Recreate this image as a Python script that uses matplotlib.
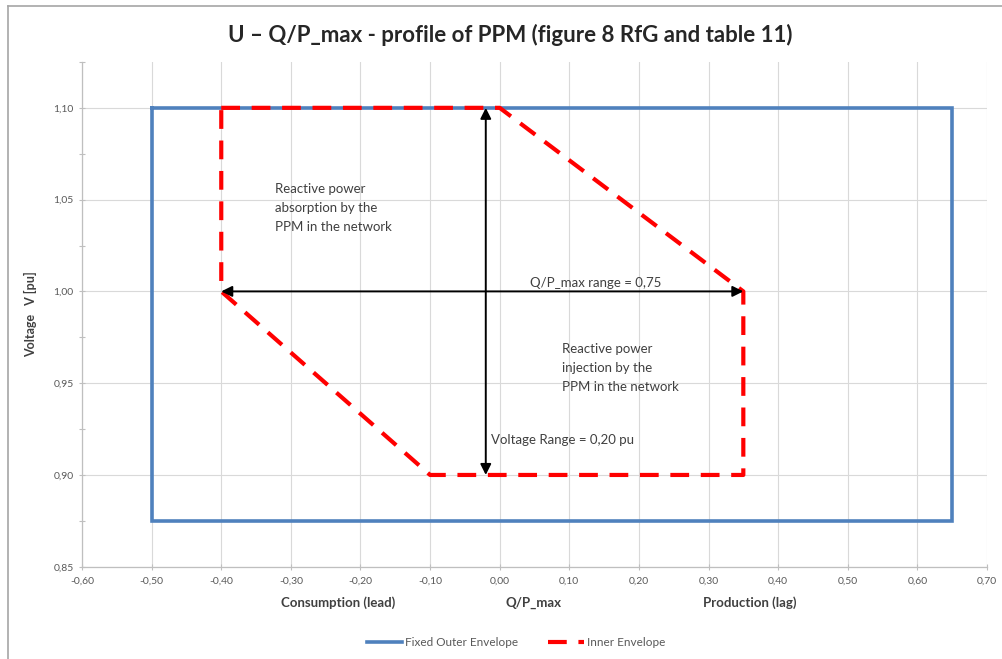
import matplotlib
matplotlib.use("Agg")
import matplotlib.pyplot as plt
from matplotlib.lines import Line2D
from matplotlib.ticker import FuncFormatter, MultipleLocator

plt.rcParams["font.family"] = ["Lato", "DejaVu Sans"]

# outer envelope (fixed)
outer_q = [-0.50, 0.65, 0.65, -0.50, -0.50]
outer_u = [1.10, 1.10, 0.875, 0.875, 1.10]

# inner envelope
inner_q = [-0.40, 0.00, 0.35, 0.35, -0.10, -0.40, -0.40]
inner_u = [1.10, 1.10, 1.00, 0.90, 0.90, 1.00, 1.10]

# range arrows
v_arrow_q = -0.02
v_arrow_u = [0.90, 1.10]
h_arrow_u = 1.00
h_arrow_q = [-0.40, 0.35]

text_col = "#404040"
tick_col = "#595959"

fig = plt.figure(figsize=(10.03, 6.59), dpi=100)
ax = fig.add_axes([0.0818, 0.140, 0.9022, 0.766])

ax.plot(outer_q, outer_u, color="#4F81BD", lw=2.6, solid_joinstyle="miter",
        label="Fixed Outer Envelope", zorder=3)
ax.plot(inner_q, inner_u, color="#FF0000", lw=3.0, dashes=(4.5, 2.8),
        label="Inner Envelope", zorder=4)

arrow = dict(arrowstyle="<|-|>", color="black", lw=1.4, mutation_scale=16,
             shrinkA=0, shrinkB=0)
ax.annotate("", xy=(v_arrow_q, v_arrow_u[1]), xytext=(v_arrow_q, v_arrow_u[0]),
            arrowprops=arrow, zorder=5)
ax.annotate("", xy=(h_arrow_q[1], h_arrow_u), xytext=(h_arrow_q[0], h_arrow_u),
            arrowprops=arrow, zorder=5)

note = dict(fontsize=9.5, color=text_col, linespacing=1.7)
ax.text(-0.323, 1.059, "Reactive power\nabsorption by the\nPPM in the network",
        ha="left", va="top", **note)
ax.text(0.09, 0.972, "Reactive power\ninjection by the\nPPM in the network",
        ha="left", va="top", **note)
ax.text(0.043, 1.0045, "Q/P_max range = 0,75", ha="left", va="center", **note)
ax.text(-0.012, 0.919, "Voltage Range = 0,20 pu", ha="left", va="center", **note)

ax.set_xlim(-0.60, 0.70)
ax.set_ylim(0.85, 1.125)
ax.xaxis.set_major_locator(MultipleLocator(0.10))
ax.yaxis.set_major_locator(MultipleLocator(0.05))
ax.yaxis.set_minor_locator(MultipleLocator(0.025))
comma = FuncFormatter(lambda v, p: f"{v:.2f}".replace(".", ",").replace("-0,00", "0,00"))
ax.xaxis.set_major_formatter(comma)
ax.yaxis.set_major_formatter(comma)
ax.tick_params(axis="both", which="both", labelsize=7.5, labelcolor=tick_col,
               color="#BFBFBF", direction="inout", length=5, width=0.8)
ax.tick_params(axis="y", which="minor", length=4)
ax.tick_params(axis="x", pad=5)

ax.grid(True, which="major", color="#D9D9D9", lw=0.8)
ax.set_axisbelow(True)
for side in ["top", "right"]:
    ax.spines[side].set_visible(False)
for side in ["left", "bottom"]:
    ax.spines[side].set_color("#BFBFBF")
    ax.spines[side].set_linewidth(0.9)

ax.set_ylabel("Voltage   V [pu]", fontsize=9, fontweight="bold", color=text_col,
              labelpad=12)

lab = dict(fontsize=9.5, fontweight="bold", color=text_col, ha="center", va="center")
fig.text(338 / 1003, 1 - 603 / 659, "Consumption (lead)", **lab)
fig.text(534 / 1003, 1 - 603 / 659, "Q/P_max", **lab)
fig.text(750 / 1003, 1 - 603 / 659, "Production (lag)", **lab)

fig.text(510 / 1003, 1 - 35 / 659,
         "U \u2013 Q/P_max - profile of PPM (figure 8 RfG and table 11)",
         fontsize=16, fontweight="bold", color="#262626", ha="center", va="center")

leg = fig.legend(loc="center", bbox_to_anchor=(516 / 1003, 1 - 643 / 659),
                 ncol=2, frameon=False, fontsize=8.5, handlelength=3.0,
                 columnspacing=2.5, handletextpad=0.3)
for t in leg.get_texts():
    t.set_color(tick_col)

# chart area border
fig.add_artist(Line2D([8 / 1003, 1.0], [1 - 6 / 659] * 2, color="#A6A6A6", lw=1.2))
fig.add_artist(Line2D([8 / 1003] * 2, [0.0, 1 - 6 / 659], color="#A6A6A6", lw=1.2))

fig.savefig("out.png", dpi=100)
plt.close(fig)
